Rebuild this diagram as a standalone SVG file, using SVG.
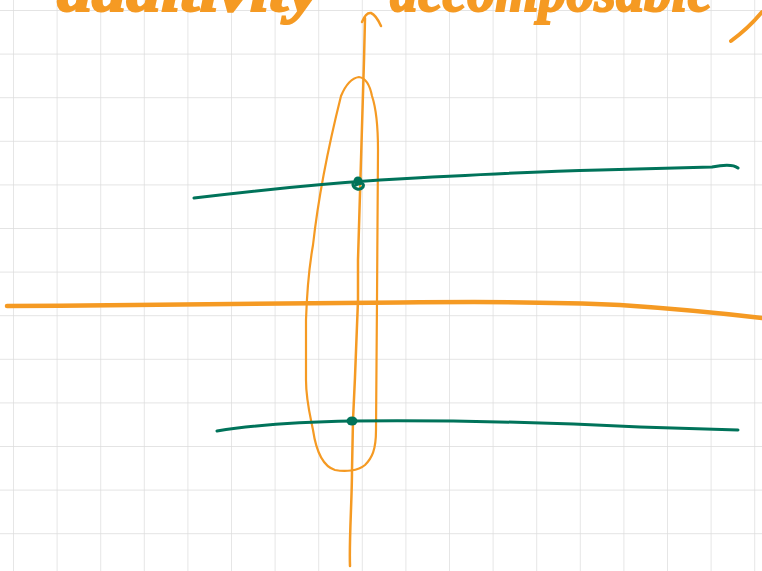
<svg xmlns="http://www.w3.org/2000/svg" width="762" height="571" viewBox="0 0 762 571">
  <defs>
    <pattern id="grid" patternUnits="userSpaceOnUse" x="13" y="10" width="43.6" height="43.6">
      <path d="M0,0 H43.6 M0,0 V43.6" fill="none" stroke="#dcdcdc" stroke-width="1.4"/>
    </pattern>
    <style>
      .ink-o { fill: none; stroke: #F59A23; stroke-linecap: round; stroke-linejoin: round; }
      .ink-g { fill: none; stroke: #00735A; stroke-linecap: round; stroke-linejoin: round; }
      .hand { font-family: "Liberation Serif", "DejaVu Serif", serif; font-style: italic; font-weight: bold; fill: #F59A23; stroke: #F59A23; stroke-width: 2; }
    </style>
  </defs>
  <rect width="762" height="571" fill="#ffffff"/>
  <rect width="762" height="571" fill="url(#grid)"/>

  <g id="title">
    <text class="hand" x="57" y="11" font-size="60" textLength="262" lengthAdjust="spacingAndGlyphs">additivity</text>
    <text class="hand" x="390" y="11" font-size="60" textLength="322" lengthAdjust="spacingAndGlyphs">decomposable</text>
    <path class="ink-o" d="M731,41 C742,33 752,24 762,12" stroke-width="4"/>
  </g>

  <g id="axes">
    <path id="x-axis" class="ink-o" d="M7,306 C150,305 300,304 400,302.5 C480,301.5 560,302 620,305 C680,309 720,313 762,318" stroke-width="4.5"/>
    <g id="y-axis">
      <path class="ink-o" d="M350,566 C349,540 352,500 352,470 L353,420 C355,380 357,330 358,300 L358,260 C360,200 362,120 364,60 L365,18" stroke-width="2.5"/>
      <path class="ink-o" d="M362,22 Q366,12 371,13 Q376,15 381,26" stroke-width="2.5"/>
    </g>
  </g>

  <g id="loop">
    <path class="ink-o" d="M341,96 C346,84 352,78 359,77 C366,78 370,86 372,96 C376,108 378,122 378,150 L377,300 L376,430 C376,450 372,458 365,465 C358,471 345,472 335,470 C322,466 316,450 313,430 C310,415 306,400 306,380 L306,320 C307,290 310,262 313,245 C318,200 330,140 341,96" stroke-width="2.2"/>
  </g>

  <g id="connectors">
    <g id="upper-line">
      <path class="ink-g" d="M194,198 C260,190 320,184 380,180 C450,176 520,172 600,170 L712,167 C722,165 733,164 738,168" stroke-width="3"/>
      <circle cx="358" cy="181" r="4.5" fill="#00735A"/>
      <path class="ink-g" d="M353,183 C352,189 360,191 363,187 C365,183 360,182 356,185" stroke-width="3"/>
    </g>
    <g id="lower-line">
      <path class="ink-g" d="M217,431 C260,424 300,422 352,421 C450,420 560,423 640,427 L738,430" stroke-width="3"/>
      <ellipse cx="352" cy="421" rx="5.5" ry="4.5" fill="#00735A"/>
    </g>
  </g>
</svg>
